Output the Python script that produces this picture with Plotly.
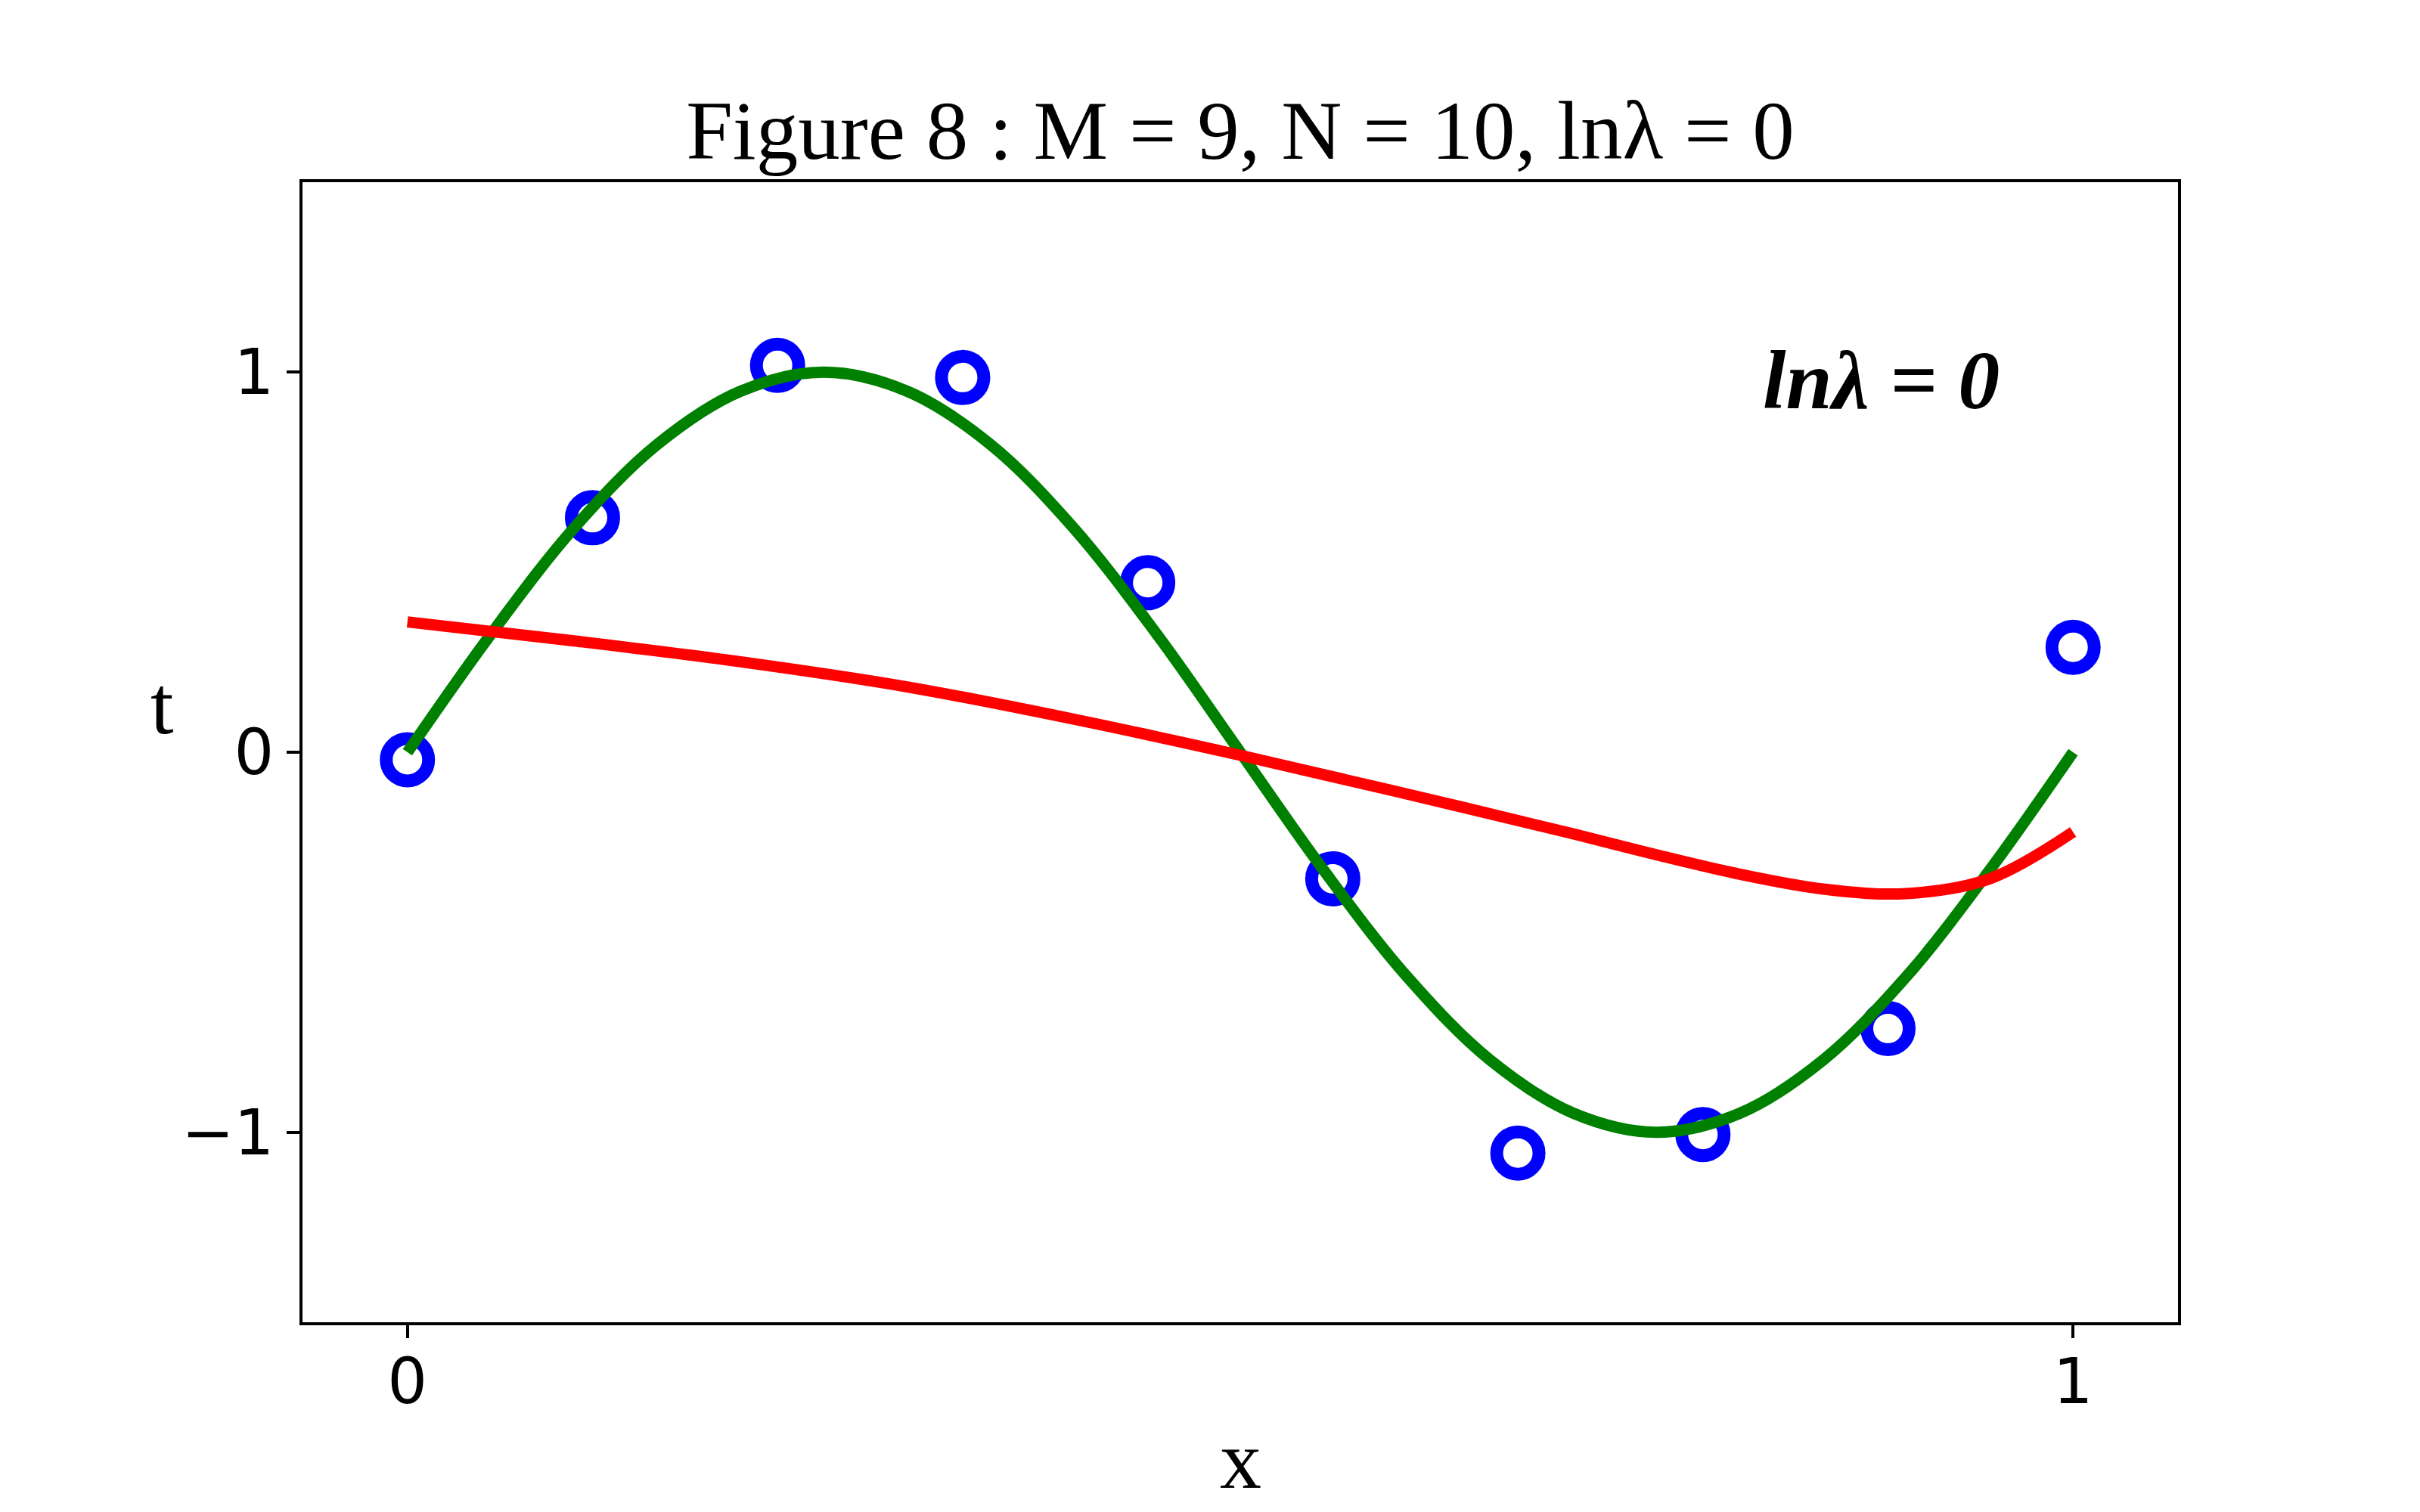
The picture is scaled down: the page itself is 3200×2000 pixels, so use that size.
import plotly.graph_objects as go

# ---- data ----
x_obs = [0.0, 1/9, 2/9, 3/9, 4/9, 5/9, 6/9, 7/9, 8/9, 1.0]
t_obs = [-0.02, 0.617, 1.018, 0.986, 0.446, -0.333, -1.055, -1.006, -0.727, 0.276]

x_true = [0.0, 0.05, 0.10, 0.15, 0.20, 0.25, 0.30, 0.35, 0.40, 0.45, 0.50,
          0.55, 0.60, 0.65, 0.70, 0.75, 0.80, 0.85, 0.90, 0.95, 1.0]
t_true = [0.0, 0.31, 0.59, 0.81, 0.95, 1.0, 0.95, 0.81, 0.59, 0.31, 0.0,
          -0.31, -0.59, -0.81, -0.95, -1.0, -0.95, -0.81, -0.59, -0.31, 0.0]

x_fit = [0.0, 0.1, 0.2, 0.3, 0.4, 0.5, 0.6, 0.7, 0.75, 0.8, 0.85, 0.9, 0.95, 1.0]
t_fit = [0.343, 0.293, 0.238, 0.172, 0.087, -0.008, -0.11, -0.215, -0.27,
         -0.321, -0.36, -0.372, -0.333, -0.21]

title_text = "Figure 8 : M = 9, N = 10, lnλ = 0"
note_text = "<b><i>lnλ = 0</i></b>"
xtick_vals = [0, 1]
ytick_vals = [-1, 0, 1]

SERIF = "Liberation Serif, Times New Roman, serif"
SANS = "DejaVu Sans, sans-serif"

fig = go.Figure()
fig.add_trace(go.Scatter(
    x=x_obs, y=t_obs, mode="markers",
    marker=dict(symbol="circle-open", size=56, color="#0000ff",
                line=dict(width=17, color="#0000ff")),
    showlegend=False, cliponaxis=False))
fig.add_trace(go.Scatter(
    x=x_true, y=t_true, mode="lines", line=dict(color="#008000", width=15, shape="spline"),
    showlegend=False))
fig.add_trace(go.Scatter(
    x=x_fit, y=t_fit, mode="lines", line=dict(color="#ff0000", width=15, shape="spline"),
    showlegend=False))

fig.update_layout(
    width=3200, height=2000,
    margin=dict(l=400, r=320, t=241, b=251),
    paper_bgcolor="white", plot_bgcolor="white",
    title=dict(text=title_text, x=0.5125, xanchor="center", y=0.9145, yanchor="middle",
               font=dict(family=SERIF, size=111, color="black")),
    xaxis=dict(range=[-0.063, 1.063], tickvals=xtick_vals, ticktext=[str(v) for v in xtick_vals],
               showgrid=False, zeroline=False, showline=True, mirror=True,
               linecolor="black", linewidth=4, ticks="outside", ticklen=17,
               tickwidth=4, tickcolor="black", ticklabelstandoff=-14,
               tickfont=dict(family=SANS, size=83, color="black")),
    yaxis=dict(range=[-1.5, 1.5], tickvals=ytick_vals,
               showgrid=False, zeroline=False, showline=True, mirror=True,
               linecolor="black", linewidth=4, ticks="outside", ticklen=17,
               tickwidth=4, tickcolor="black", ticklabelstandoff=0,
               tickfont=dict(family=SANS, size=83, color="black")),
    annotations=[
        dict(text=note_text, x=0.885, y=0.979, xref="x", yref="y",
             xanchor="center", yanchor="middle", showarrow=False,
             font=dict(family=SERIF, size=110, color="black")),
        dict(text="x", x=0.5, y=-0.121, xref="paper", yref="paper",
             xanchor="center", yanchor="middle", showarrow=False,
             font=dict(family=SERIF, size=110, color="black")),
        dict(text="t", x=-0.075, y=0.541, xref="paper", yref="paper",
             xanchor="center", yanchor="middle", showarrow=False,
             font=dict(family=SERIF, size=110, color="black")),
    ],
)

fig.write_html("out.html")
